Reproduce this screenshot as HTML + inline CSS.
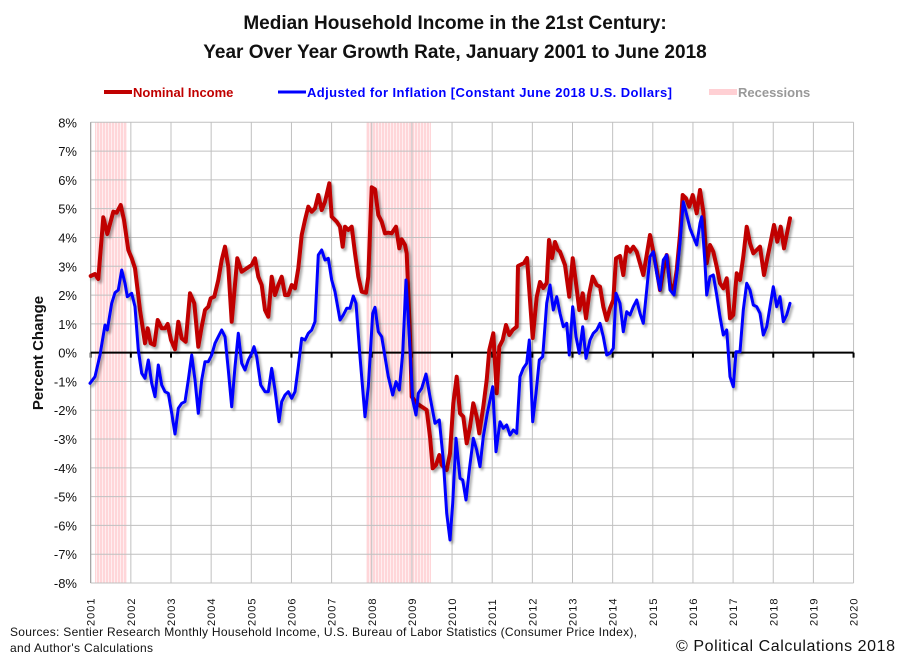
<!DOCTYPE html>
<html><head><meta charset="utf-8"><style>
body{margin:0;background:#fff;}
svg{display:block;font-family:"Liberation Sans",sans-serif;}
</style></head><body>
<svg id="s" width="910" height="662" xmlns="http://www.w3.org/2000/svg">
<defs>
<pattern id="rs" width="3" height="10" patternUnits="userSpaceOnUse">
<rect width="3" height="10" fill="#ffd6d9"/><rect width="1" height="10" fill="#ffeef0"/>
</pattern>
<filter id="sh" x="-5%" y="-5%" width="110%" height="110%">
<feGaussianBlur in="SourceAlpha" stdDeviation="1.2"/><feOffset dx="2" dy="2.5" result="b"/>
<feComponentTransfer><feFuncA type="linear" slope="0.35"/></feComponentTransfer>
<feMerge><feMergeNode/><feMergeNode in="SourceGraphic"/></feMerge>
</filter>
</defs>
<text x="455" y="29" text-anchor="middle" font-size="19" font-weight="bold" fill="#111">Median Household Income in the 21st Century:</text>
<text x="455" y="58" text-anchor="middle" font-size="19" font-weight="bold" fill="#111">Year Over Year Growth Rate, January 2001 to June 2018</text>
<line x1="104" y1="92" x2="132" y2="92" stroke="#c00000" stroke-width="4"/>
<text x="133" y="97" font-size="13" font-weight="bold" fill="#c00000">Nominal Income</text>
<line x1="278" y1="92" x2="306" y2="92" stroke="#0000ff" stroke-width="3"/>
<text x="307" y="97" font-size="13" font-weight="bold" fill="#0000ff" textLength="365">Adjusted for Inflation [Constant June 2018 U.S. Dollars]</text>
<line x1="709" y1="92" x2="737" y2="92" stroke="#ffd0d4" stroke-width="6"/>
<text x="738" y="97" font-size="13" font-weight="bold" fill="#999">Recessions</text>
<g id="g"></g>
<text transform="translate(43,353) rotate(-90)" text-anchor="middle" font-size="15" font-weight="bold" fill="#111">Percent Change</text>
<text x="10" y="636" font-size="12" fill="#111" textLength="627">Sources: Sentier Research Monthly Household  Income, U.S. Bureau of Labor Statistics (Consumer  Price Index),</text>
<text x="10" y="652" font-size="12" fill="#111" textLength="143">and Author's Calculations</text>
<text x="676" y="651" font-size="16" fill="#111" textLength="219">© Political Calculations 2018</text>
</svg>
<script>
var NS="http://www.w3.org/2000/svg",g=document.getElementById("g");
function el(t,a){var e=document.createElementNS(NS,t);for(var k in a)e.setAttribute(k,a[k]);g.appendChild(e);return e;}
var L=90.7,R=853.6,T=122.3,B=583,dx=40.15,dy=(B-T)/16,Z=T+8*dy;
el("rect",{x:95,y:T,width:32,height:B-T,fill:"url(#rs)"});
el("rect",{x:366,y:T,width:65,height:B-T,fill:"url(#rs)"});
for(var i=0;i<=16;i++){var y=T+i*dy;el("line",{x1:L,x2:R,y1:y,y2:y,stroke:"#c0c0c0","stroke-width":1});
var t=el("text",{x:77,y:y+5,"text-anchor":"end","font-size":13,fill:"#111"});t.textContent=(8-i)+"%";}
for(var j=0;j<=19;j++){var x=L+j*dx;el("line",{x1:x,x2:x,y1:T,y2:B,stroke:"#c0c0c0","stroke-width":1});
el("line",{x1:x,x2:x,y1:Z,y2:Z+5,stroke:"#000","stroke-width":2});
var t=el("text",{transform:"translate("+(x+4)+",626) rotate(-90)","font-size":11,fill:"#111","letter-spacing":"1"});t.textContent=2001+j;}
el("line",{x1:L,x2:L,y1:T,y2:B,stroke:"#999"});
el("line",{x1:L,x2:R,y1:Z,y2:Z,stroke:"#000","stroke-width":2});
function tr(a,ox,oy,s){var r=[];for(var i=0;i<a.length;i+=2)r.push([ox+a[i]/s,oy+a[i+1]/s]);return r;}
var r1=tr([272,588,285,582,295,597,310,412,322,462,340,395,350,398,362,375,372,420,385,510,395,535,405,565,420,690,435,790,443,745,452,790,463,795,473,720,485,745,495,745,503,732,513,780,525,808,535,725,545,775,557,785,570,640,583,670,595,800,605,740,615,690,625,680,632,655,643,650,655,600,665,540,675,500,685,560,695,725,712,535,725,575,740,565,755,555,765,535,775,590,785,615,795,690,805,710,815,590,825,645,835,615,845,590,855,645,865,645,875,615,885,625,895,565,905,465,915,420,925,380,935,395,945,385,955,345,965,390,975,365,988,310,995,410,1010,425,1020,440,1028,500,1035,440,1045,450,1055,440,1065,520,1075,590,1085,635,1098,638,1105,590,1115,322,1125,328,1135,405,1145,425,1155,460,1165,458,1175,460,1188,440,1198,505,1205,478,1215,495,1220,520],0,80,3);
var r2=tr([180,200,185,380,200,400,215,410,230,420,240,500,248,595,258,585,268,555,275,585,290,600,300,550,310,400,320,320,330,430,340,440,350,520,360,470,370,400,380,440,388,490,400,410,410,330,418,240,430,190,440,370,448,230,458,210,468,165,478,195,488,180,500,170],350,270,3);
var r3=[[518,266],[524,263],[527,258],[532.7,338],[536.7,297],[540,282],[543.3,288],[546.7,283],[549,240],[552,258],[555,242],[558,250]];
var r4=tr([0,215,15,255,28,350,38,235,48,310,58,390,68,340,78,415,88,340,98,290,110,315,120,320,130,380,140,420,150,385,160,360,168,235,180,228,190,285,200,200,210,215,220,200,230,215,240,250,250,285,260,225,270,165,280,215,290,270,300,330,310,270,320,225,330,310,340,340,350,270,360,165,368,45,378,55,388,80,398,45,410,100,420,30,430,95,440,250,450,195,460,215,470,260,480,310,490,325,500,295,510,415,520,405,530,280,540,300,550,230,560,140,570,190,580,220,590,210,600,200,612,285,622,235,632,185,642,135,652,185,662,140,672,205,682,155,690,115],560,180,3);
var b1=tr([0,430,15,410,30,345,45,255,52,270,65,190,75,158,85,150,95,90,105,130,112,170,125,160,135,200,145,330,155,400,165,415,175,360,185,430,195,470,205,375,215,435,225,455,235,460,245,520,255,582,265,505,275,490,285,485,295,420,305,345,315,420,325,520,335,420,345,365,355,365,365,345,375,310,385,290,395,270,405,290,415,390,425,500,435,380,445,280,455,370,465,390,475,360,485,340,492,320,500,350,512,435,525,455,535,455,545,385,555,450,567,545,575,485,585,465,595,455,605,475,615,455,625,380,635,295,645,300,655,280,665,270,675,245,685,45,695,30,705,60,715,55,725,120,735,155,750,240,760,225,770,205,780,205],90,240,3);
var b2=tr([10,78,18,100,30,260,45,440,55,350,68,130,75,112,85,185,95,200,105,260,115,320,128,375,138,335,148,360,158,250,168,30,178,200,188,390,198,435,205,370,215,355,228,312,240,380,255,460,268,450,280,570,290,730,300,810,308,700,318,505,330,625,338,630,348,690,358,600,370,505,380,540,390,590,400,500,412,430,428,350,438,545,450,455,460,475,470,465,480,495,490,480,500,490,510,320,520,295,530,280,538,210,548,455,558,370,568,270,578,260,590,100,600,45,610,120,620,80],350,270,3);
var b3=tr([0,400,10,440,20,430,28,525,38,380,48,470,58,520,68,440,78,535,90,480,100,460,110,450,120,430,130,470,140,525,150,520,160,505,168,340,180,370,190,455,200,395,210,405,220,380,230,360,240,400,250,430,260,330,270,230,280,215,290,280,300,330,310,240,320,225,330,330,342,345,352,270,360,190,370,65,380,105,390,145,400,170,410,195,420,130,425,110,435,250,440,345,450,290,460,285,470,345,480,410,490,465,500,450,510,590,520,620,528,515,540,515,550,390,560,310,570,330,580,375,590,380,600,400,610,465,620,440,630,380,640,320,650,380,660,350,670,425,680,405,690,370],560,180,3);
function pl(p,c,w){el("polyline",{points:p.map(function(q){return q[0].toFixed(1)+","+q[1].toFixed(1)}).join(" "),fill:"none",stroke:c,"stroke-width":w,"stroke-linejoin":"round","stroke-linecap":"round",filter:"url(#sh)"});}
pl(r1.concat(r2,r3,r4),"#c00000",4);
pl(b1.concat(b2,b3),"#0000ff",3);
</script>
</body></html>
